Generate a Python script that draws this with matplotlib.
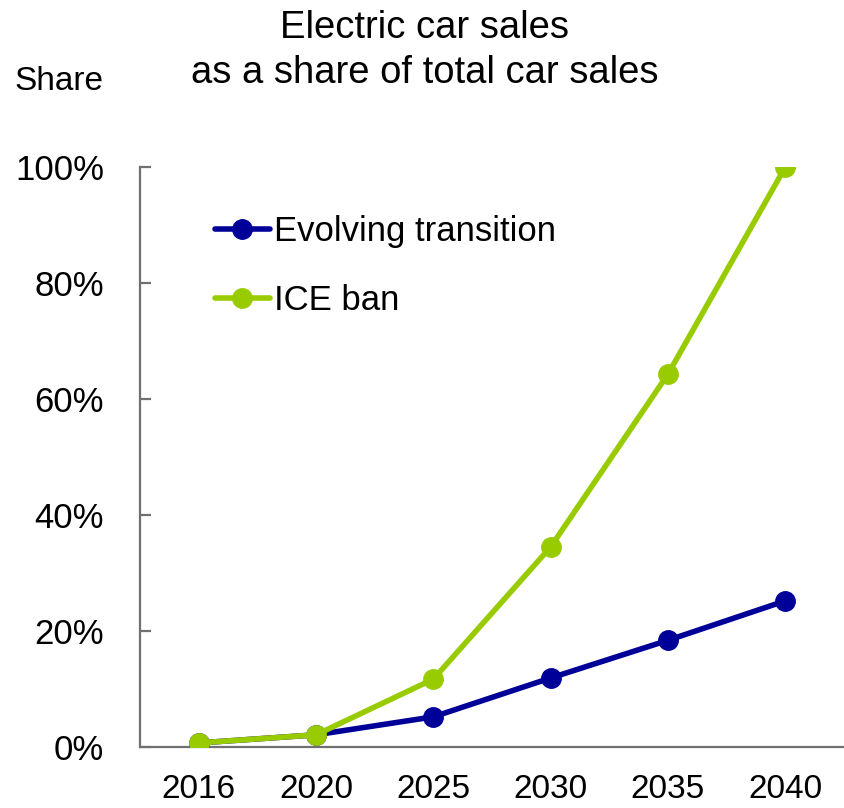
import matplotlib
matplotlib.use("Agg")
import matplotlib.pyplot as plt
from matplotlib.ticker import FixedLocator

FONT = ['Liberation Sans', 'DejaVu Sans']
plt.rcParams['font.family'] = FONT

years = ["2016", "2020", "2025", "2030", "2035", "2040"]
evolving = [0.7, 2.1, 5.2, 11.9, 18.4, 25.2]
ice_ban = [0.7, 2.1, 11.7, 34.5, 64.3, 100.0]
y_ticks = [0, 20, 40, 60, 80, 100]
y_labels = ["0%", "20%", "40%", "60%", "80%", "100%"]

blue = "#000099"
green = "#99CC00"
spine_col = "#707070"

fig = plt.figure(figsize=(8.44, 8.08), dpi=100)
ax = fig.add_axes([140/844, 61/808, 704/844, 580/808])

x = list(range(len(years)))
ax.plot(x, evolving, color=blue, lw=4, marker="o", ms=14, label="Evolving transition",
        solid_capstyle="round", zorder=3)
ax.plot(x, ice_ban, color=green, lw=4, marker="o", ms=14, label="ICE ban",
        solid_capstyle="round", zorder=4)

ax.set_xlim(-0.5, 5.5)
ax.set_ylim(0, 100)
ax.set_xticks(x)
ax.set_xticklabels(years)
ax.yaxis.set_major_locator(FixedLocator(y_ticks))
ax.set_yticklabels(y_labels)

for s in ["top", "right"]:
    ax.spines[s].set_visible(False)
for s in ["left", "bottom"]:
    ax.spines[s].set_color(spine_col)
    ax.spines[s].set_linewidth(1.6)

ax.tick_params(axis="y", direction="in", length=8, width=1.6, color=spine_col,
               labelsize=25, pad=26)
ax.tick_params(axis="x", length=0, labelsize=24, pad=19.5)

for sp in ax.spines.values():
    sp.set_clip_on(False)

leg = ax.legend(loc="upper left", bbox_to_anchor=(0.106, 0.917), frameon=False,
                prop={"family": FONT, "size": 25},
                handlelength=1.6, handletextpad=0.12, labelspacing=1.03,
                borderaxespad=0, borderpad=0)

fig.text(425/844, 1 - 28/808, "Electric car sales", ha="center", va="center", fontsize=27.5)
fig.text(425/844, 1 - 73/808, "as a share of total car sales", ha="center", va="center", fontsize=27.5)
fig.text(14/844, 1 - 81/808, "Share", ha="left", va="center", fontsize=24)

fig.savefig("out.png", dpi=100)
